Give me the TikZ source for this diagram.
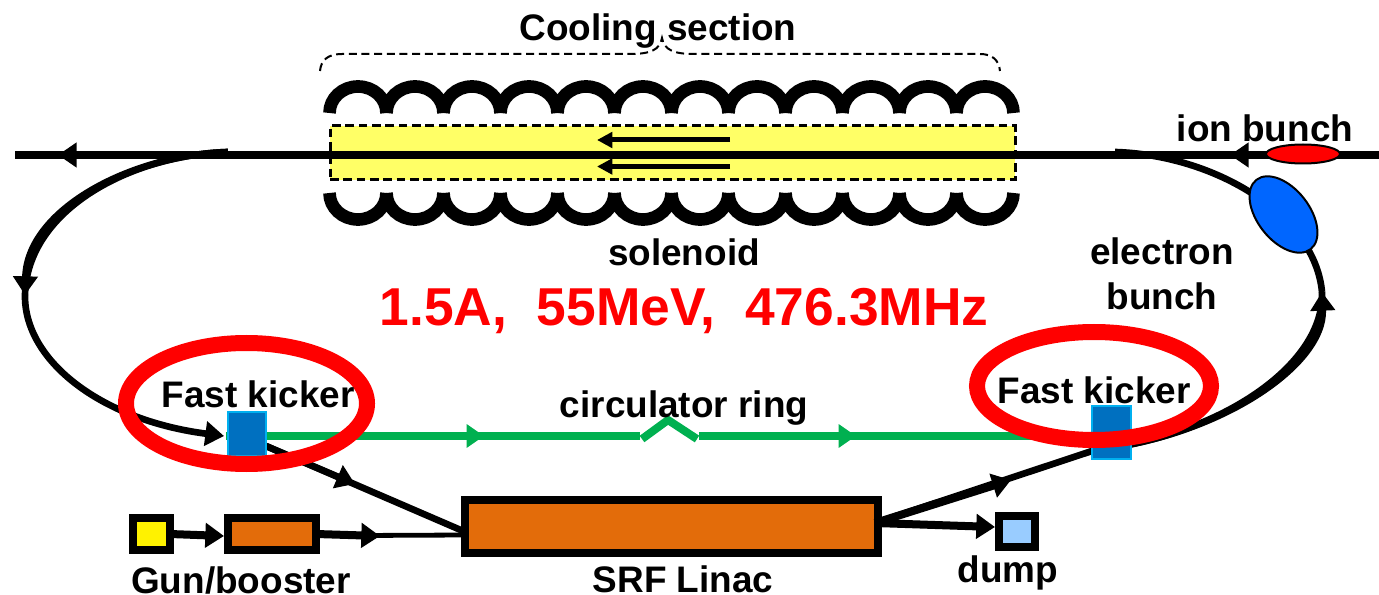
\documentclass[tikz,border=0pt]{standalone}
\usepackage{fontspec}
\setmainfont{Liberation Sans}
\usetikzlibrary{arrows.meta,shapes.geometric}
\definecolor{boxorange}{HTML}{E36C0A}
\definecolor{kickerblue}{HTML}{0070C0}
\definecolor{kickeredge}{HTML}{00B0F0}
\definecolor{ringgreen}{HTML}{00B050}
\definecolor{solyellow}{HTML}{FFFF66}
\definecolor{ebunchblue}{HTML}{0066FF}
\definecolor{dumpblue}{HTML}{99CCFF}
\tikzset{
  x=0.75pt,y=-0.75pt,
  lab/.style={font=\fontsize{27.7}{33.75}\selectfont\bfseries,inner sep=0pt,align=center,text=black},
  labb/.style={lab,anchor=base},
  bigred/.style={font=\fontsize{40}{46}\selectfont\bfseries,inner sep=0pt,text=red,anchor=base},
  coil/.style={line width=9.5pt,black},
  beam/.style={line width=6pt,black},
  wire/.style={line width=5pt,black},
  thickwire/.style={line width=6pt,black},
  thinwire/.style={line width=3.6pt,black},
  ring/.style={line width=6pt,ringgreen},
  head/.style={-{Triangle[length=14pt,width=18pt]}},
  ghead/.style={-{Triangle[length=13pt,width=17pt]}},
  smallhead/.style={-{Triangle[length=11.5pt,width=11.5pt]}},
  boxnode/.style={draw=black,line width=6pt,inner sep=0pt,outer sep=0pt},
  kicker/.style={draw=kickeredge,fill=kickerblue,line width=1.1pt,inner sep=0pt,outer sep=0pt},
  redring/.style={ellipse,draw=red,line width=12pt,inner sep=0pt,outer sep=0pt},
  bunch/.style={ellipse,draw=black,line width=1.5pt,inner sep=0pt,outer sep=0pt},
}
\begin{document}
\begin{tikzpicture}
\useasboundingbox (0,0) rectangle (1379,595);
% cooling solenoid region
\node[draw=black,dash pattern=on 6.5pt off 3.5pt,line width=2.25pt,fill=solyellow,inner sep=0pt,outer sep=0pt,minimum width=513.75pt,minimum height=40.5pt] (cool) at (672.5,153) {};
\foreach \x in {358,415,...,985}{
  \draw[coil] (\x-28.5,113) arc[start angle=180,end angle=360,x radius=28.5,y radius=26.5];
  \draw[coil] (\x-28.5,193) arc[start angle=180,end angle=0,x radius=28.5,y radius=26.5];
}
% brace
\coordinate (brL) at (320,71);
\coordinate (brM) at (662,38);
\coordinate (brR) at (1000,71);
\draw[dash pattern=on 6pt off 3.5pt,line width=1.5pt] (brL) .. controls (321,60) and (328,54) .. (342,54) -- (630,54) .. controls (650,54) and (660,50) .. (brM) .. controls (664,50) and (674,54) .. (694,54) -- (980,54) .. controls (992,54) and (999,60) .. (brR);
% beam line
\coordinate (beamE) at (1379,155);
\coordinate (beamW) at (15,155);
\coordinate (beamH) at (58,155);
\coordinate (ionH) at (1230,155);
\draw[beam] (beamE) -- (beamW);
\draw[head,line width=6pt] (ionH) ++(1,0) -- (ionH);
\draw[head,line width=6pt] (beamH) ++(1,0) -- (beamH);
% inner arrows
\coordinate (a1s) at (730,140); \coordinate (a1e) at (597,140);
\coordinate (a2s) at (730,166.5); \coordinate (a2e) at (597,166.5);
\draw[line width=3.75pt,smallhead] (a1s) -- (a1e);
\draw[line width=3.75pt,smallhead] (a2s) -- (a2e);
% boxes
\node[boxnode,fill=yellow,minimum width=27.75pt,minimum height=24pt] (gun) at (151.5,534) {};
\node[boxnode,fill=boxorange,minimum width=66pt,minimum height=24pt] (booster) at (272,534) {};
\node[boxnode,fill=boxorange,minimum width=309.75pt,minimum height=39.75pt] (linac) at (671.5,526.5) {};
\node[boxnode,fill=dumpblue,minimum width=27pt,minimum height=23.25pt] (dump) at (1017,531.5) {};
% ring
\coordinate (lk) at (226,436);
\coordinate (rk) at (1095,436);
\coordinate (g1) at (484,436);
\coordinate (g2) at (856,436);
\coordinate (g1e) at (640,436);
\coordinate (g2s) at (699,436);
\coordinate (z1) at (642,439);
\coordinate (z2) at (668,420);
\coordinate (z3) at (697,439);
\draw[ring] (lk) -- (g1e);
\draw[ring,ghead] (lk) -- (g1);
\draw[ring,line join=miter] (z1) -- (z2) -- (z3);
\draw[ring] (g2s) -- (rk);
\draw[ring,ghead] (g2s) -- (g2);
% electron path
\coordinate (tl) at (228,152);
\coordinate (hl) at (25,295);
\coordinate (hk) at (224,436);
\coordinate (tr) at (1115,152);
\coordinate (hr) at (1322,292);
\coordinate (rkl) at (1095,450);
\coordinate (lkl) at (266,446);
\coordinate (h1) at (355,484);
\coordinate (lnw) at (463,531);
\coordinate (h2) at (1011,480);
\coordinate (lne) at (875,523);
\coordinate (h3) at (995,527);
\coordinate (h4) at (224,536);
\coordinate (h5) at (380,536);
\coordinate (h5b) at (362,535.5);
\coordinate (lnin) at (465,535);
\draw[wire] (tl) .. controls (130,155) and (27,210) .. (hl);
\draw[wire,head] (tl) .. controls (130,155) and (27,210) .. (hl);
\draw[wire,head] (hl) .. controls (24,360) and (100,420) .. (hk);
\draw[wire] (hr) .. controls (1315,215) and (1215,155) .. (tr);
\draw[wire] (rkl) .. controls (1220,436) and (1325,365) .. (hr);
\draw[wire,head] (rkl) .. controls (1220,436) and (1325,365) .. (hr);
\draw[wire] (lkl) -- (lnw);
\draw[wire,head] (lkl) -- (h1);
\draw[wire] (lne) -- (rkl);
\draw[thickwire,head] (lne) -- (h2);
\draw[thickwire,head] (lne) -- (h3);
\draw[thickwire,head] (gun.east) -- (h4);
\draw[thinwire] (h5b) -- (lnin);
\draw[thickwire,head] (booster.east) -- (h5);
% bunches
\node[bunch,fill=red,minimum width=55.5pt,minimum height=14.25pt] (ion) at (1303,154) {};
\node[bunch,fill=ebunchblue,minimum width=66pt,minimum height=39pt,rotate=-52] (ebunch) at (1283.5,214.5) {};
% kickers
\node[kicker,minimum width=28.5pt,minimum height=33pt] (kl) at (247,434) {};
\node[kicker,minimum width=29pt,minimum height=39.75pt] (kr) at (1111.5,432.5) {};
% red rings
\node[redring,minimum width=180.75pt,minimum height=90.75pt] (rl) at (246.5,403.5) {};
\node[redring,minimum width=175.5pt,minimum height=81pt] (rr) at (1094,386) {};
% labels
\node[labb] (t1) at (658,41) {Cooling section};
\node[labb] (t2) at (684,266) {solenoid};
\node[bigred] (t3) at (684,326) {1.5A,\ \ 55MeV,\ \ 476.3MHz};
\node[labb] (t4) at (1265,142) {ion bunch};
\node[lab] (t5) at (1162,273.5) {electron\\bunch};
\node[labb] (t6) at (258,407) {Fast kicker};
\node[labb] (t7) at (1094,404) {Fast kicker};
\node[labb] (t8) at (684,417) {circulator ring};
\node[labb] (t9) at (241,593) {Gun/booster};
\node[labb] (t10) at (683,592) {SRF Linac};
\node[labb] (t11) at (1008,582) {dump};
\end{tikzpicture}
\end{document}
